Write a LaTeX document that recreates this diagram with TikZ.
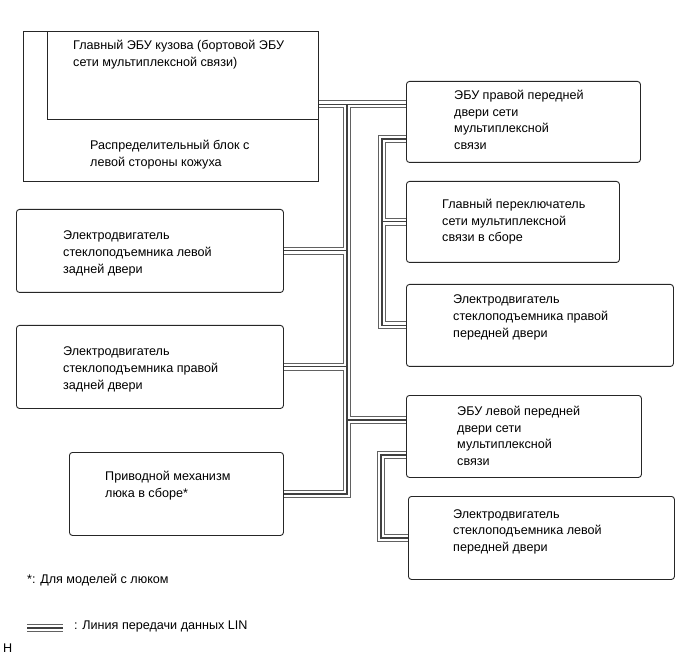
\documentclass[tikz,border=0pt]{standalone}
\usepackage{fontspec}
\setmainfont{Liberation Sans}
\usepackage{tikz}
\usetikzlibrary{backgrounds}

% one LIN line = three parallel strokes, drawn in three passes
\tikzset{
  linouter/.style={line width=8pt,draw=black!62},
  linwhite/.style={line width=6pt,draw=white},
  lincore/.style={line width=1.1pt,draw=black!75}}

\newcommand\linbus[1]{%
  \draw[#1] (becu.east |- tr) -- (rfecu.west |- tr);
  \draw[#1] (tr) -- (tr |- sun.east) -- (sun.east);
  \draw[#1] (tr |- lrm.east) -- (lrm.east);
  \draw[#1] (tr |- rrm.east) -- (rrm.east);
  \draw[#1] (tr |- lfb) -- (lfb);
  \draw[#1] (rfecu.west |- rs) -- (rs) -- (rs |- rfm.west) -- (rfm.west);
  \draw[#1] (rs |- msw.west) -- (msw.west);
  \draw[#1] (lfecu.west |- ls) -- (ls) -- (ls |- lfm.west) -- (lfm.west);
  \draw[#1] (lga) -- (lgb);}

\begin{document}
\begin{tikzpicture}[x=1pt,y=-1pt,
  box/.style={draw=black!85,line width=0.9pt,rounded corners=3pt,anchor=north west,inner sep=0pt},
  blk/.style={box,sharp corners},
  txt/.style={anchor=north west,align=left,inner sep=0pt,font=\fontsize{12.6}{16.6}\selectfont}]
  \useasboundingbox (0,0) rectangle (691,660);
  % junction block and body ECU
  \node[blk,minimum width=295pt,minimum height=150pt] (jb) at (23,31) {};
  \node[blk,minimum width=271pt,minimum height=88pt] (becu) at (47,31) {};
  \node[txt] at (73,40) {Главный ЭБУ кузова (бортовой ЭБУ\\сети мультиплексной связи)};
  \node[txt] at (90,140) {Распределительный блок с\\левой стороны кожуха};
  % left column
  \node[box,minimum width=267pt,minimum height=83pt] (lrm) at (16,209) {};
  \node[txt] at (63,231) {Электродвигатель\\стеклоподъемника левой\\задней двери};
  \node[box,minimum width=267pt,minimum height=83pt] (rrm) at (16,325) {};
  \node[txt] at (63,347) {Электродвигатель\\стеклоподъемника правой\\задней двери};
  \node[box,minimum width=214pt,minimum height=83pt] (sun) at (69,452) {};
  \node[txt] at (105,471) {Приводной механизм\\люка в сборе*};
  % right column
  \node[box,minimum width=234pt,minimum height=81pt] (rfecu) at (406,81) {};
  \node[txt] at (454,90) {ЭБУ правой передней\\двери сети\\мультиплексной\\связи};
  \node[box,minimum width=213pt,minimum height=81pt] (msw) at (406,181) {};
  \node[txt] at (442,199) {Главный переключатель\\сети мультиплексной\\связи в сборе};
  \node[box,minimum width=267pt,minimum height=82pt] (rfm) at (406,284) {};
  \node[txt] at (453,295) {Электродвигатель\\стеклоподъемника правой\\передней двери};
  \node[box,minimum width=235pt,minimum height=82pt] (lfecu) at (406,395) {};
  \node[txt] at (457,406) {ЭБУ левой передней\\двери сети\\мультиплексной\\связи};
  \node[box,minimum width=266pt,minimum height=83pt] (lfm) at (408,496) {};
  \node[txt] at (453,509) {Электродвигатель\\стеклоподъемника левой\\передней двери};
  % notes
  \node[txt] (note) at (27,574) {*: Для моделей с люком};
  \node[txt] (legend) at (74,621) {: Линия передачи данных LIN};
  \node[txt] (fig) at (3,644) {H};
  % bus points
  \coordinate (tr) at (347,104.5);
  \coordinate (rs) at (382,139);
  \coordinate (ls) at (381,455);
  \coordinate (lfb) at (406,420);
  \coordinate (lga) at (27,628);
  \coordinate (lgb) at (63,628);
  \begin{scope}[on background layer]
    \linbus{linouter}
    \linbus{linwhite}
    \linbus{lincore}
  \end{scope}
\end{tikzpicture}
\end{document}
